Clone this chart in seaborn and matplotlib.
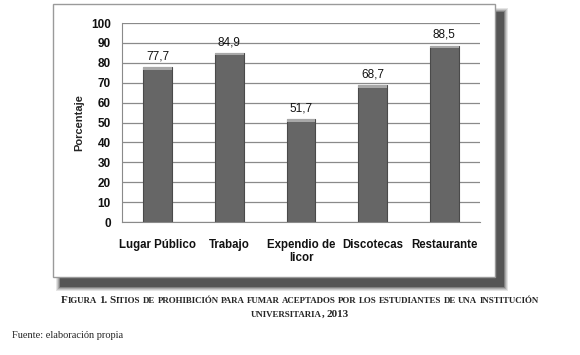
import matplotlib
matplotlib.use("Agg")
import matplotlib.pyplot as plt
import matplotlib.patches as mpatches
import pandas as pd
import seaborn as sns

# data
sitios = ["Lugar Público", "Trabajo", "Expendio de\nlicor", "Discotecas", "Restaurante"]
porcentaje = [77.7, 84.9, 51.7, 68.7, 88.5]
etiquetas = ["77,7", "84,9", "51,7", "68,7", "88,5"]
y_ticks = [0, 10, 20, 30, 40, 50, 60, 70, 80, 90, 100]
caption = ["Figura 1. Sitios de prohibición para fumar aceptados por los estudiantes de una institución",
           "universitaria, 2013"]

df = pd.DataFrame({"sitio": sitios, "pct": porcentaje})

sns.set_style("white")
plt.rcParams["font.family"] = ["Liberation Sans", "DejaVu Sans"]

fig = plt.figure(figsize=(5.8, 3.55), dpi=100)
fig.patch.set_facecolor("white")

# soft shadow behind the chart frame
W, H = 580.0, 355.0
def fbox(x0, y0, x1, y1):
    return (x0 / W, 1 - y1 / H), (x1 - x0) / W, (y1 - y0) / H

for i, a in enumerate([0.12, 0.15, 0.2, 0.3, 0.5]):
    d = 4 - i
    xy, w, h = fbox(60 - d, 12 - d, 504 + d, 287 + d)
    fig.patches.append(mpatches.Rectangle(xy, w, h, transform=fig.transFigure,
                                          facecolor="#2a2a2a", alpha=a, edgecolor="none", zorder=0))
xy, w, h = fbox(53, 4, 495, 277)
fig.patches.append(mpatches.Rectangle(xy, w, h, transform=fig.transFigure,
                                      facecolor="white", edgecolor="#9a9a9a", lw=1.0, zorder=1))

ax = fig.add_axes([122 / W, 1 - 222 / H, 358 / W, 199 / H])
ax.set_facecolor("white")
ax.set_zorder(2)
sns.barplot(data=df, x="sitio", y="pct", color="#666666", width=0.4,
            edgecolor="#4a4a4a", linewidth=0.8, saturation=1, ax=ax)

# lighter band near the top of each bar
for p in ax.patches:
    x = p.get_x()
    ax.add_patch(mpatches.Rectangle((x, p.get_height() - 1.2), p.get_width(), 1.2,
                                    facecolor="#a8a8a8", edgecolor="none", zorder=3))

for i, (v, t) in enumerate(zip(porcentaje, etiquetas)):
    ax.text(i, v + 2.5, t, ha="center", va="bottom", fontsize=8.5, color="#111111")

ax.set_ylim(0, 100)
ax.set_yticks(y_ticks)
ax.yaxis.grid(True, color="#8a8a8a", lw=0.9)
ax.set_axisbelow(True)
ax.set_xlim(-0.5, 4.5)
for s in ["top", "right"]:
    ax.spines[s].set_visible(False)
ax.spines["left"].set_color("#8a8a8a")
ax.spines["bottom"].set_color("#8a8a8a")
ax.tick_params(axis="y", length=0, pad=8, labelsize=8.5)
ax.tick_params(axis="x", length=0, pad=12, labelsize=8.3)
for lab in ax.get_xticklabels() + ax.get_yticklabels():
    lab.set_fontweight("bold")
    lab.set_color("#111111")
ax.set_xlabel("")
ax.set_ylabel("Porcentaje", fontsize=8, fontweight="bold", labelpad=5)


# small caps caption, drawn word by word
def small_caps(text, cx, cy, big=8.0, small=6.4):
    r = fig.canvas.get_renderer()
    kw = dict(fontweight="bold", family="Liberation Serif", ha="left", va="baseline")
    probe = fig.text(0, 0, "X X", fontsize=small, **kw)
    probe2 = fig.text(0, 0, "XX", fontsize=small, **kw)
    gap = probe.get_window_extent(r).width - probe2.get_window_extent(r).width
    probe.remove()
    probe2.remove()
    placed = []
    for word in text.split(" "):
        runs = []
        for ch in word:
            size = small if ch.islower() else big
            if runs and runs[-1][1] == size:
                runs[-1][0] += ch.upper()
            else:
                runs.append([ch.upper(), size])
        for s, size in runs:
            t = fig.text(0, cy, s, fontsize=size, **kw)
            placed.append((t, t.get_window_extent(r).width))
        placed.append((None, gap))
    placed = placed[:-1]
    total = sum(w for _, w in placed)
    x = cx * W - total / 2
    for t, wpx in placed:
        if t is not None:
            t.set_x(x / W)
        x += wpx


small_caps(caption[0], 300 / W, 1 - 303 / H)
small_caps(caption[1], 300 / W, 1 - 317 / H)
fig.text(12 / W, 1 - 335 / H, "Fuente: elaboración propia",
         ha="left", va="center", fontsize=7.5, family="Liberation Serif")

fig.savefig("out.png", dpi=100)
